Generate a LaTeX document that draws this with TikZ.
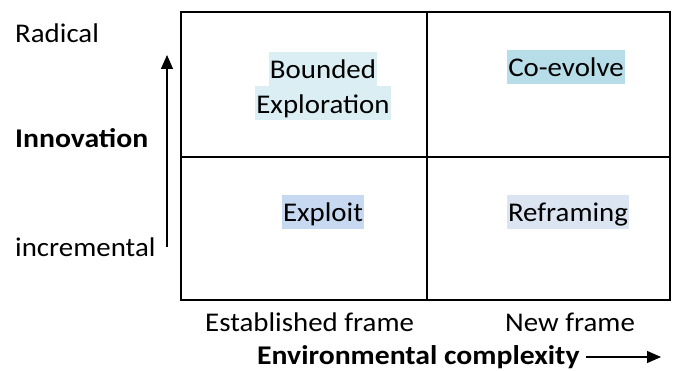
\documentclass[tikz,border=0pt]{standalone}
\usepackage{fontspec}
\setmainfont{Carlito}[FakeStretch=1.07, BoldFeatures={FakeStretch=1.1}]
\usetikzlibrary{arrows.meta}
\definecolor{hlA}{HTML}{DAEEF3}
\definecolor{hlB}{HTML}{B7DEE8}
\definecolor{hlC}{HTML}{C6D9F1}
\definecolor{hlD}{HTML}{DBE5F1}
\begin{document}
\begin{tikzpicture}[x=1pt,y=-1pt,
  lbl/.style={font=\fontsize{27}{32}\selectfont, inner sep=0pt, anchor=west},
  bold/.style={lbl, font=\fontsize{27}{32}\selectfont\bfseries},
  cell/.style={font=\fontsize{27}{32}\selectfont, inner xsep=1pt, inner ysep=4pt,
    text height=23pt, text depth=3pt},
  axis/.style={line width=1.3pt, -{Triangle[length=14pt,width=12pt]}}]
\useasboundingbox (0,0) rectangle (674,371);
% grid
\draw[line width=1.4pt] (181,12) rectangle (670,300);
\draw[line width=1.4pt] (427,12) -- (427,300);
\draw[line width=1.4pt] (181,157) -- (670,157);
% quadrant labels
\node[cell, fill=hlA] (b1) at (323,69) {Bounded};
\node[cell, fill=hlA, anchor=north] (b2) at (b1.south) {Exploration};
\node[cell, fill=hlB] (ce) at (566,67) {Co-evolve};
\node[cell, fill=hlC] (ex) at (323,212) {Exploit};
\node[cell, fill=hlD] (rf) at (568,212) {Reframing};
% vertical axis
\node[lbl] (rad) at (15,33) {Radical};
\node[bold] (inn) at (15,138) {Innovation};
\node[lbl] (inc) at (15,247) {incremental};
\coordinate (vs) at (167,247);
\coordinate (ve) at (167,55);
\draw[axis] (vs) -- (ve);
% horizontal axis
\node[lbl] (est) at (205,322) {Established frame};
\node[lbl] (nf) at (505,322) {New frame};
\node[bold] (env) at (257,357) {Environmental complexity};
\coordinate (hs) at (586,357);
\coordinate (he) at (661,357);
\draw[axis] (hs) -- (he);
\end{tikzpicture}
\end{document}
